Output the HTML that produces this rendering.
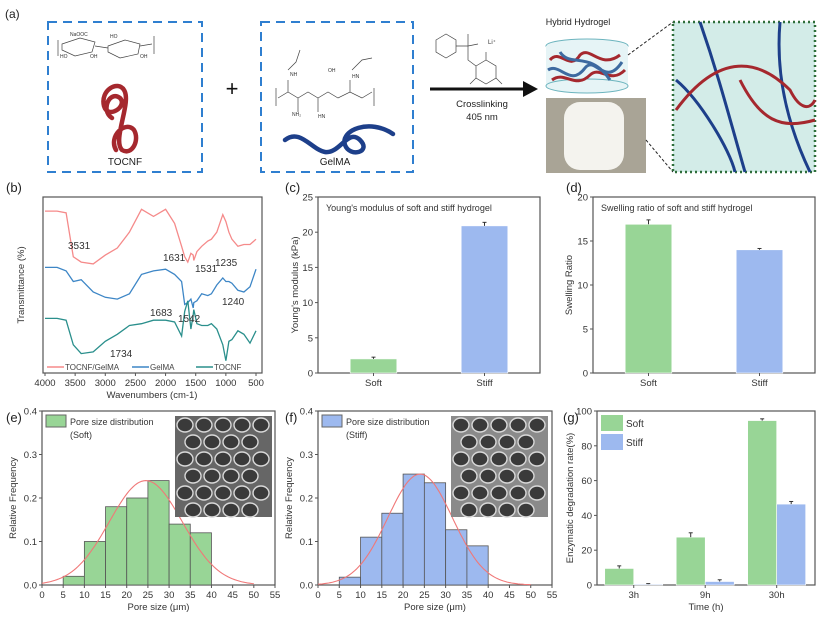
<!DOCTYPE html>
<html><head><meta charset="utf-8">
<style>
html,body{margin:0;padding:0;background:#fff;}
svg{display:block;font-family:"Liberation Sans",Arial,sans-serif;}
</style></head>
<body>
<svg id="fig" width="829" height="626" viewBox="0 0 829 626" xmlns="http://www.w3.org/2000/svg">
<g>
  <text x="5" y="18" font-size="12" fill="#222">(a)</text>
  <rect x="48" y="22" width="154" height="150" fill="none" stroke="#2f7fd0" stroke-width="2" stroke-dasharray="9,6"/>
  <g stroke="#444" stroke-width="0.7" fill="none">
    <path d="M58 40 L58 56 M62 44 L80 38 L95 42 L92 52 L75 56 L62 50 Z M95 46 L108 48 M108 46 L125 40 L140 44 L138 54 L120 58 L108 52 Z M140 46 L152 44 M154 36 L154 54"/>
  </g>
  <text x="70" y="36" font-size="5" fill="#333">NaOOC</text>
  <text x="60" y="58" font-size="5" fill="#333">HO</text>
  <text x="90" y="58" font-size="5" fill="#333">OH</text>
  <text x="110" y="38" font-size="5" fill="#333">HO</text>
  <text x="140" y="58" font-size="5" fill="#333">OH</text>
  <path d="M112 118 C100 110 110 90 120 98 C128 106 108 120 104 106 C100 90 118 80 124 90 C132 102 112 140 122 150 C132 156 140 140 134 130 C126 120 108 136 116 150" fill="none" stroke="#a5282e" stroke-width="4.5" stroke-linecap="round"/>
  <text x="125" y="165" font-size="10" text-anchor="middle" fill="#222">TOCNF</text>
  <text x="232" y="96" font-size="22" text-anchor="middle" fill="#111">+</text>
  <rect x="261" y="22" width="152" height="150" fill="none" stroke="#2f7fd0" stroke-width="2" stroke-dasharray="9,6"/>
  <g stroke="#444" stroke-width="0.7" fill="none">
    <path d="M278 98 L288 92 L298 98 L308 92 L318 98 L328 92 L338 98 L350 92 L362 98 L372 92 M276 88 L276 106 M374 88 L374 106 M288 92 L288 80 M298 98 L298 112 M318 98 L318 112 M350 92 L350 80 M288 70 L296 62 L300 50 M352 70 L362 60 L372 58"/>
  </g>
  <text x="290" y="76" font-size="5" fill="#333">NH</text>
  <text x="328" y="72" font-size="5" fill="#333">OH</text>
  <text x="352" y="78" font-size="5" fill="#333">HN</text>
  <text x="292" y="116" font-size="5" fill="#333">NH₂</text>
  <text x="318" y="118" font-size="5" fill="#333">HN</text>
  <path d="M285 140 C300 128 312 150 325 152 C340 154 348 128 360 140 C372 152 350 158 345 145 C340 130 370 118 393 134" fill="none" stroke="#1d3f8a" stroke-width="4.5" stroke-linecap="round"/>
  <text x="335" y="165" font-size="10" text-anchor="middle" fill="#222">GelMA</text>
  <g stroke="#444" stroke-width="0.7" fill="none">
    <polygon points="436,40 446,34 456,40 456,52 446,58 436,52"/>
    <path d="M456 46 L468 46 L468 34 M468 46 L478 44 M468 46 L468 60 L476 66 M476 66 L486 60 L496 66 L496 78 L486 84 L476 78 Z M486 60 L486 52 M476 78 L470 84 M496 78 L502 84"/>
  </g>
  <text x="488" y="44" font-size="6" fill="#333">Li⁺</text>
  <line x1="430" y1="89" x2="525" y2="89" stroke="#111" stroke-width="3"/>
  <polygon points="523,81 538,89 523,97" fill="#111"/>
  <text x="482" y="107" font-size="9.5" text-anchor="middle" fill="#222">Crosslinking</text>
  <text x="482" y="120" font-size="9.5" text-anchor="middle" fill="#222">405 nm</text>
  <text x="578" y="25" font-size="9" text-anchor="middle" fill="#222">Hybrid Hydrogel</text>
  <g>
    <ellipse cx="587" cy="46" rx="41" ry="7" fill="#e6f4f6" stroke="#6cb4be"/>
    <rect x="546" y="46" width="82" height="40" fill="#e6f4f6" stroke="none"/>
    <ellipse cx="587" cy="86" rx="41" ry="7" fill="#e6f4f6" stroke="#6cb4be"/>
    <path d="M550 60 C560 48 570 72 580 55 C590 45 600 70 620 55 M552 80 C565 70 575 90 590 75 C600 65 610 85 625 70" fill="none" stroke="#a5282e" stroke-width="3"/>
    <path d="M548 70 C560 62 570 88 585 68 C595 55 605 88 622 62 M560 52 C570 68 590 50 610 80" fill="none" stroke="#3d6aa0" stroke-width="3"/>
  </g>
  <rect x="546" y="98" width="100" height="75" fill="#a9a496"/>
  <rect x="564" y="102" width="60" height="68" rx="16" fill="#f4f3ee"/>
  <line x1="628" y1="55" x2="673" y2="22" stroke="#222" stroke-dasharray="3,2"/>
  <line x1="646" y1="140" x2="673" y2="172" stroke="#222" stroke-dasharray="3,2"/>
  <rect x="673" y="22" width="142" height="150" fill="#d3ece8" stroke="#2e6e3a" stroke-width="2.5" stroke-dasharray="2,3"/>
  <path d="M700 22 C720 80 730 120 745 172 M780 22 C775 80 790 130 810 172 M676 80 C700 100 730 150 735 172" fill="none" stroke="#1d3f8a" stroke-width="3"/>
  <path d="M676 110 C720 50 760 60 790 90 C800 110 810 110 815 100 M740 80 C760 120 780 130 815 120" fill="none" stroke="#a5282e" stroke-width="3"/>
</g>
<g id="charts"></g>
</svg>
<script>
const ftirWn = [4000,3800,3650,3531,3400,3200,3000,2800,2600,2400,2200,2000,1850,1734,1683,1631,1580,1542,1531,1480,1400,1300,1240,1150,1050,1000,950,900,800,700,600,500];
const ftirTocnfGelma = [92,92,91,66,63,62,67,71,80,93,89,93,85,72,66,63,68,67,64,69,72,75,76,80,90,86,80,76,72,73,73,76];
const ftirGelma = [60,60,58,52,53,46,43,42,45,56,58,59,56,52,39,40,42,37,40,41,45,44,45,50,54,52,52,51,47,46,49,59];
const ftirTocnf = [31,31,30,16,11,12,18,22,27,28,30,30,29,21,35,41,25,33,36,28,27,27,28,25,16,7,18,19,24,22,17,24];
const modCats = ["Soft","Stiff"];
const modVals = [2.0,20.9];
const modErr = [0.25,0.5];
const modTicks = [0,5,10,15,20,25];
const swCats = ["Soft","Stiff"];
const swVals = [16.9,14.0];
const swErr = [0.5,0.15];
const swTicks = [0,5,10,15,20];
const binEdges = [5,10,15,20,25,30,35,40];
const softFreq = [0.02,0.10,0.18,0.20,0.24,0.14,0.12];
const stiffFreq = [0.018,0.11,0.165,0.255,0.235,0.127,0.09];
const softFit = {mean:24.5, sd:8.6, peak:0.24};
const stiffFit = {mean:24.0, sd:7.6, peak:0.255};
const poreTicks = [0,5,10,15,20,25,30,35,40,45,50,55];
const freqTicks = [0,0.1,0.2,0.3,0.4];
const degCats = ["3h","9h","30h"];
const degSoft = [9.5,27.5,94.5];
const degStiff = [0.5,2.0,46.5];
const degSoftErr = [1.5,2.5,1.0];
const degStiffErr = [0.3,1.0,1.5];
const degTicks = [0,20,40,60,80,100];
const wnTicks = [4000,3500,3000,2500,2000,1500,1000,500];

const NS="http://www.w3.org/2000/svg";
const root=document.getElementById('charts');
function mk(tag,attrs,parent,txt){const e=document.createElementNS(NS,tag);for(const k in attrs)e.setAttribute(k,attrs[k]);if(txt!==undefined)e.textContent=txt;(parent||root).appendChild(e);return e;}
function lin(d0,d1,r0,r1){return v=>r0+(v-d0)/(d1-d0)*(r1-r0);}
const GREEN="#98d596",BLUE="#9db9ef",AX="#555";

function frame(g,x0,y0,x1,y1){
  const r=mk('rect',{x:x0,y:y0,width:x1-x0,height:y1-y0,fill:'none',stroke:AX,'stroke-width':1.2},g);
  
  
}
function yaxis(g,ticks,ys,x0,fmt){
  ticks.forEach(t=>{
    mk('line',{x1:x0,x2:x0-3,y1:ys(t),y2:ys(t),stroke:AX},g);
    const tx=mk('text',{x:x0-5,y:ys(t)+3.5,'font-size':9.5,'text-anchor':'end',fill:'#333'},g,fmt?fmt(t):t);
    
    
  });
}
function xaxis(g,ticks,xs,y0,fmt){
  ticks.forEach(t=>{
    mk('line',{x1:xs(t),x2:xs(t),y1:y0,y2:y0+3,stroke:AX},g);
    const tx=mk('text',{x:xs(t),y:y0+13,'font-size':9.5,'text-anchor':'middle',fill:'#333'},g,fmt?fmt(t):t);
    
    
  });
}
function ylabel(g,x,y,txt){
  const t=mk('text',{x:x,y:y,'font-size':9.5,'text-anchor':'middle',fill:'#333',transform:`rotate(-90 ${x} ${y})`},g,txt);
  
  
}
function xlabel(g,x,y,txt){
  const t=mk('text',{x:x,y:y,'font-size':9.5,'text-anchor':'middle',fill:'#333'},g,txt);
  
  
}
function plabel(g,x,y,txt){
  const t=mk('text',{x:x,y:y,'font-size':13,fill:'#222'},g,txt);
  
  
}

(function(){
  const g=mk('g',{});
  
  
  const X0=43,X1=262,Y0=197,Y1=373;
  const xs=lin(4000,500,X0+2,X1-6), ys=lin(0,100,Y1,Y0);
  plabel(g,6,192,'(b)');
  frame(g,X0,Y0,X1,Y1);
  xaxis(g,wnTicks,xs,Y1);
  ylabel(g,24,285,'Transmittance (%)');
  xlabel(g,152,398,'Wavenumbers (cm-1)');
  [[ftirTocnfGelma,'#f58a8a','line-tocnf-gelma'],[ftirGelma,'#3d86c6','line-gelma'],[ftirTocnf,'#2a8f8c','line-tocnf']].forEach(([arr,c,n])=>{
    const p=mk('path',{d:arr.map((v,i)=>(i?'L':'M')+xs(ftirWn[i]).toFixed(1)+' '+ys(v).toFixed(1)).join(' '),fill:'none',stroke:c,'stroke-width':1.3},g);
    
    
  });
  const ann=[["3531",68,249],["1631",163,261],["1531",195,272],["1235",215,266],["1683",150,316],["1542",178,322],["1240",222,305],["1734",110,357]];
  ann.forEach(a=>{const t=mk('text',{x:a[1],y:a[2],'font-size':10,fill:'#333'},g,a[0]);
    
    });
  const leg=[["TOCNF/GelMA",'#f58a8a',47],["GelMA",'#3d86c6',132],["TOCNF",'#2a8f8c',196]];
  leg.forEach(l=>{
    mk('line',{x1:l[2],x2:l[2]+17,y1:367,y2:367,stroke:l[1],'stroke-width':1.5},g);
    const t=mk('text',{x:l[2]+18,y:370,'font-size':8,fill:'#444'},g,l[0]);
    
    
  });
})();

function barPanel(name,lab,labx,X0,X1,Y0,Y1,ticks,cats,vals,errs,title,ytitle,ytx){
  const g=mk('g',{});
  
  
  const ys=lin(ticks[0],ticks[ticks.length-1],Y1,Y0);
  const bw=(X1-X0)*0.21, step=(X1-X0)/cats.length;
  plabel(g,labx,192,lab);
  frame(g,X0,Y0,X1,Y1);
  yaxis(g,ticks,ys,X0);
  ylabel(g,ytx,285,ytitle);
  const tt=mk('text',{x:X0+8,y:Y0+14,'font-size':9,fill:'#333'},g,title);
  
  
  cats.forEach((c,i)=>{
    const cx=X0+step*(i+0.5);
    const r=mk('rect',{x:cx-bw/2,y:ys(vals[i]),width:bw,height:Y1-ys(vals[i]),fill:i?BLUE:GREEN,stroke:'#fff','stroke-width':0.6},g);
    
    
    const ye=ys(vals[i]+errs[i]);
    mk('line',{x1:cx,x2:cx,y1:ys(vals[i]),y2:ye,stroke:'#333'},g);
    mk('line',{x1:cx-2,x2:cx+2,y1:ye,y2:ye,stroke:'#333'},g);
    mk('line',{x1:cx,x2:cx,y1:Y1,y2:Y1+3,stroke:AX},g);
    const t=mk('text',{x:cx,y:Y1+13,'font-size':9.5,'text-anchor':'middle',fill:'#333'},g,c);
    
    
  });
}
barPanel('panel-c-modulus','(c)',285,318,540,197,373,modTicks,modCats,modVals,modErr,"Young's modulus of soft and stiff hydrogel","Young's modulus (kPa)",298);
barPanel('panel-d-swelling','(d)',566,593,815,197,373,swTicks,swCats,swVals,swErr,"Swelling ratio of soft and stiff hydrogel","Swelling Ratio",572);

function histPanel(name,lab,labx,X0,X1,freq,fit,color,sub,sem){
  const Y0=411,Y1=585;
  const g=mk('g',{});
  
  
  const xs=lin(0,55,X0,X1), ys=lin(0,0.4,Y1,Y0);
  plabel(g,labx,422,lab);
  frame(g,X0,Y0,X1,Y1);
  yaxis(g,freqTicks,ys,X0,t=>t.toFixed(1));
  xaxis(g,poreTicks,xs,Y1);
  ylabel(g,X0-26,498,'Relative Frequency');
  xlabel(g,(X0+X1)/2,610,'Pore size (μm)');
  freq.forEach((f,i)=>{
    const r=mk('rect',{x:xs(binEdges[i]),y:ys(f),width:xs(binEdges[i+1])-xs(binEdges[i]),height:Y1-ys(f),fill:color,stroke:'#555','stroke-width':0.8},g);
    
    
  });
  let d='';
  for(let v=0;v<=50;v+=0.5){const y=fit.peak*Math.exp(-0.5*Math.pow((v-fit.mean)/fit.sd,2));d+=(v?'L':'M')+xs(v).toFixed(1)+' '+ys(y).toFixed(1)+' ';}
  const p=mk('path',{d:d,fill:'none',stroke:'#f07878','stroke-width':1.1},g);
  
  
  const lr=mk('rect',{x:X0+4,y:Y0+4,width:20,height:12,fill:color,stroke:'#666'},g);
  
  
  const t1=mk('text',{x:X0+28,y:Y0+14,'font-size':9,fill:'#333'},g,'Pore size distribution');
  
  
  mk('text',{x:X0+28,y:Y0+27,'font-size':9,fill:'#333'},g,sub);
  const ix=X0+133, iy=Y0+5;
  const im=mk('rect',{x:ix,y:iy,width:97,height:101,fill:sem},g);
  
  
  const pat=mk('g',{fill:'none',stroke:'#d8d8d8','stroke-width':1.4},g);
  for(let r=0;r<6;r++)for(let c=0;c<5;c++){
    const cx=ix+10+c*19+(r%2)*8, cy=iy+9+r*17;
    if(cx<ix+92) mk('ellipse',{cx:cx,cy:cy,rx:8,ry:7,fill:'#3a3a3a'},pat);
  }
}
histPanel('panel-e-soft-pores','(e)',6,42,275,softFreq,softFit,GREEN,'(Soft)','#666');
histPanel('panel-f-stiff-pores','(f)',285,318,552,stiffFreq,stiffFit,BLUE,'(Stiff)','#8a8a8a');

(function(){
  const X0=597,X1=815,Y0=411,Y1=585;
  const g=mk('g',{});
  
  
  const ys=lin(0,100,Y1,Y0);
  plabel(g,563,422,'(g)');
  frame(g,X0,Y0,X1,Y1);
  yaxis(g,degTicks,ys,X0);
  ylabel(g,573,498,'Enzymatic degradation rate(%)');
  xlabel(g,706,610,'Time (h)');
  const step=(X1-X0)/3.05, bw=29;
  degCats.forEach((c,i)=>{
    const cx=X0+1+step*(i+0.5);
    [[degSoft,degSoftErr,GREEN,-1],[degStiff,degStiffErr,BLUE,0]].forEach(([v,e,col,o])=>{
      const x=cx+o*bw;
      const r=mk('rect',{x:x,y:ys(v[i]),width:bw,height:Y1-ys(v[i]),fill:col,stroke:'#fff','stroke-width':0.6},g);
      
      
      const ye=ys(v[i]+e[i]), mx=x+bw/2;
      mk('line',{x1:mx,x2:mx,y1:ys(v[i]),y2:ye,stroke:'#333'},g);
      mk('line',{x1:mx-2,x2:mx+2,y1:ye,y2:ye,stroke:'#333'},g);
    });
    mk('line',{x1:cx,x2:cx,y1:Y1,y2:Y1+3,stroke:AX},g);
    const t=mk('text',{x:cx,y:Y1+13,'font-size':9.5,'text-anchor':'middle',fill:'#333'},g,c);
    
    
  });
  [["Soft",GREEN,415],["Stiff",BLUE,434]].forEach(l=>{
    const r=mk('rect',{x:X0+4,y:l[2],width:22,height:16,fill:l[1]},g);
    
    
    const t=mk('text',{x:X0+29,y:l[2]+12,'font-size':10,fill:'#333'},g,l[0]);
    
    
  });
})();
</script>
</body></html>
